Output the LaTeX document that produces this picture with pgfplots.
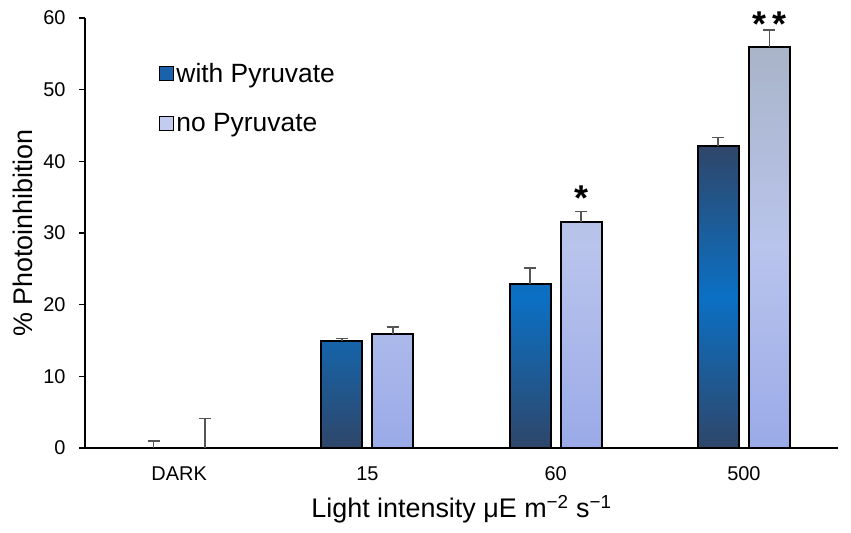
\documentclass[border=0pt]{standalone}
\usepackage{pgfplots}
\usepackage{pgfplotstable}
\pgfplotsset{compat=1.18}
\usepackage{fontspec}
\setmainfont{Liberation Sans}

\definecolor{navy}{HTML}{2F4669}
\definecolor{bright}{HTML}{0B70C4}
\definecolor{nptop}{HTML}{A9B4C9}
\definecolor{npmid}{HTML}{B9C4EC}
\definecolor{npbot}{HTML}{9AAAE8}
\definecolor{errgray}{HTML}{555555}
\definecolor{legwith}{HTML}{1A62AC}
\definecolor{legno}{HTML}{C3CBEE}

\pgfdeclareverticalshading{withpyr}{100bp}{color(0bp)=(navy); color(25bp)=(navy); color(50bp)=(bright); color(75bp)=(navy); color(100bp)=(navy)}
\pgfdeclareverticalshading{nopyr}{100bp}{color(0bp)=(npbot); color(25bp)=(npbot); color(50bp)=(npmid); color(75bp)=(nptop); color(100bp)=(nptop)}

\pgfplotstableread{
x y err
0 0 1.0
1 15.0 0.3
2 22.9 2.2
3 42.1 1.2
}\withtab
\pgfplotstableread{
x y err
0 0 4.1
1 15.9 1.0
2 31.5 1.5
3 56.0 2.3
}\notab

\begin{document}
\begin{tikzpicture}
\useasboundingbox (-85bp,-85bp) rectangle (766bp,448bp);
\begin{axis}[
  at={(0,0)}, anchor=south west,
  scale only axis, width=753bp, height=430bp,
  xmin=-0.5, xmax=3.5, ymin=0, ymax=60,
  axis x line*=bottom, axis y line*=left,
  axis line style={line width=1.5bp, -},
  xtick={0,1,2,3}, xticklabels={DARK,15,60,500},
  x tick style={draw=none},
  ytick={0,10,...,60},
  y tick style={line width=1.5bp, black},
  tick align=outside, major tick length=6bp,
  tick label style={font=\fontsize{20}{24}\selectfont},
  yticklabel style={xshift=-10bp},
  xticklabel style={yshift=-9bp},
  /pgf/number format/assume math mode=true,
  xlabel={Light intensity μE m\textsuperscript{−2} s\textsuperscript{−1}},
  ylabel={\% Photoinhibition},
  label style={font=\fontsize{27}{31}\selectfont},
  xlabel shift=8bp,
  ylabel shift=4bp,
  clip=false,
  legend style={at={(0.094,0.905)}, anchor=north west, draw=none, fill=none,
    font=\fontsize{26.5}{30}\selectfont, row sep=26bp},
  legend cell align=left,
]
\addplot[ybar, bar width=0.218, bar shift=-0.136, draw=black, line width=2bp,
  shading=withpyr, forget plot, skip coords between index={0}{1}]
  table[x=x, y=y] {\withtab};
\addplot[ybar, bar width=0.218, bar shift=0.136, draw=black, line width=2bp,
  shading=nopyr, forget plot, skip coords between index={0}{1}]
  table[x=x, y=y] {\notab};
\addplot[draw=none, no markers, forget plot,
  error bars/.cd, y dir=plus, y explicit,
  error bar style={draw=errgray, solid, line width=1.6bp},
  error mark options={draw=errgray, solid, line width=1.6bp, mark size=6bp, rotate=90}]
  table[x expr=\thisrow{x}-0.136, y=y, y error=err] {\withtab};
\addplot[draw=none, no markers, forget plot,
  error bars/.cd, y dir=plus, y explicit,
  error bar style={draw=errgray, solid, line width=1.6bp},
  error mark options={draw=errgray, solid, line width=1.6bp, mark size=6bp, rotate=90}]
  table[x expr=\thisrow{x}+0.136, y=y, y error=err] {\notab};

\addlegendimage{legend image code/.code={\draw[fill=legwith, draw=black, line width=1.5bp] (-4bp,-7bp) rectangle (10bp,7bp);}}
\addlegendentry{with Pyruvate}
\addlegendimage{legend image code/.code={\draw[fill=legno, draw=black, line width=1.5bp] (-4bp,-7bp) rectangle (10bp,7bp);}}
\addlegendentry{no Pyruvate}

\node[font=\fontsize{36}{40}\selectfont\bfseries] at (axis cs:2.136,34.9) {*};
\node[font=\fontsize{36}{40}\selectfont\bfseries] at (axis cs:3.136,59.1) {*\,*};
\end{axis}
\end{tikzpicture}
\end{document}
